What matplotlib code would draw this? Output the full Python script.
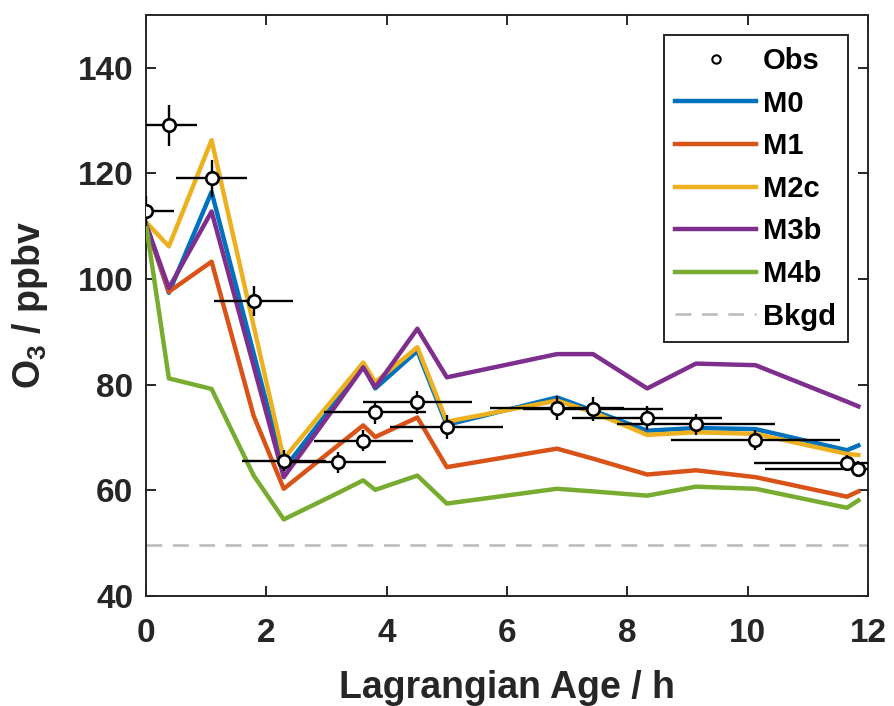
import matplotlib
matplotlib.use("Agg")
import matplotlib.pyplot as plt
from matplotlib.lines import Line2D

# ---- data ----
obs_t = [0.00, 0.38, 1.09, 1.79, 2.29, 3.19, 3.61, 3.81, 4.51, 5.00, 6.83, 7.43, 8.33, 9.14, 10.13, 11.65, 11.84]
obs_o3 = [112.9, 129.1, 119.1, 95.9, 65.6, 65.3, 69.4, 74.8, 76.7, 72.0, 75.6, 75.4, 73.7, 72.5, 69.6, 65.2, 64.0]
t_err = [0.47, 0.47, 0.59, 0.66, 0.70, 0.80, 0.82, 0.85, 0.91, 0.94, 1.11, 1.16, 1.25, 1.31, 1.40, 1.54, 1.56]
o3_err = [2.8, 3.9, 3.5, 2.8, 2.0, 2.0, 2.0, 2.2, 2.2, 2.2, 2.2, 2.2, 2.2, 2.0, 1.9, 1.5, 1.5]

m0 = [110.4, 97.4, 116.5, 85.9, 64.0, 77.3, 83.6, 79.3, 86.4, 72.4, 77.6, 75.1, 71.3, 71.8, 71.6, 67.6, 68.5]
m1 = [110.4, 97.6, 103.3, 74.1, 60.3, 68.5, 72.3, 70.1, 73.8, 64.4, 67.9, 66.0, 63.0, 63.8, 62.5, 58.8, 59.8]
m2c = [110.8, 106.2, 126.3, 91.1, 66.0, 78.4, 84.2, 80.5, 87.1, 73.0, 77.0, 74.8, 70.5, 71.0, 70.7, 66.9, 66.7]
m3b = [110.4, 98.3, 112.8, 83.5, 62.5, 76.6, 83.3, 79.5, 90.6, 81.4, 85.8, 85.8, 79.3, 84.0, 83.7, 76.8, 75.9]
m4b = [110.4, 81.2, 79.2, 62.8, 54.5, 59.5, 61.9, 60.1, 62.8, 57.5, 60.3, 59.8, 59.0, 60.7, 60.3, 56.7, 58.1]
bkgd = 49.7

model_names = ["M0", "M1", "M2c", "M3b", "M4b"]
model_values = [m0, m1, m2c, m3b, m4b]
model_colors = ["#0072BD", "#D95319", "#EDB120", "#7E2F8E", "#77AC30"]

x_ticks = [0, 2, 4, 6, 8, 10, 12]
y_ticks = [40, 60, 80, 100, 120, 140]

# ---- style ----
plt.rcParams["font.family"] = ["Liberation Sans", "DejaVu Sans"]
plt.rcParams["font.weight"] = "bold"
plt.rcParams["mathtext.fontset"] = "custom"
plt.rcParams["mathtext.rm"] = "Liberation Sans"
plt.rcParams["mathtext.default"] = "regular"
axcol = "#262626"

fig = plt.figure(figsize=(8.95, 7.06), dpi=100)
ax = fig.add_axes([146 / 895, (706 - 596) / 706, (868 - 146) / 895, (596 - 15) / 706])

handles = []
for name, vals, col in zip(model_names, model_values, model_colors):
    h, = ax.plot(obs_t, vals, color=col, lw=3.2, label=name, zorder=3)
    handles.append(h)

hb = ax.axhline(bkgd, color="#BDBDBD", lw=1.9, ls=(0, (6, 4)), zorder=2, label="Bkgd")

ax.errorbar(obs_t, obs_o3, xerr=t_err, yerr=o3_err, fmt="o", mfc="white",
            mec="black", ecolor="black", elinewidth=1.7, capsize=0, ms=9,
            mew=1.9, zorder=5)

obs_proxy = Line2D([], [], marker="o", ls="none", mfc="white", mec="black",
                   ms=6, mew=1.5)

ax.set_xlim(0, 12)
ax.set_ylim(40, 150)
ax.set_xticks(x_ticks)
ax.set_yticks(y_ticks)
ax.tick_params(direction="in", length=7, width=1.4, colors=axcol,
               labelsize=24, top=True, right=True)
ax.tick_params(axis="x", pad=16)
ax.tick_params(axis="y", pad=9)
for lab in ax.get_xticklabels() + ax.get_yticklabels():
    lab.set_fontweight("bold")
for s in ax.spines.values():
    s.set_color(axcol)
    s.set_linewidth(1.4)

ax.set_xlabel("Lagrangian Age / h", fontsize=27, fontweight="bold",
              color=axcol, labelpad=15)
ax.set_ylabel("O$_3$ / ppbv", fontsize=27, fontweight="bold",
              color=axcol, labelpad=20)

leg = ax.legend([obs_proxy] + handles + [hb], ["Obs"] + model_names + ["Bkgd"],
                loc="upper right", fontsize=21, frameon=True, fancybox=False,
                edgecolor=axcol, framealpha=1, handlelength=2.75,
                handletextpad=0.25, labelspacing=0.5, borderpad=0.4,
                borderaxespad=0.7)
leg.get_frame().set_linewidth(1.4)
for t in leg.get_texts():
    t.set_fontweight("bold")
    t.set_color("black")

fig.savefig("out.png", dpi=100)
